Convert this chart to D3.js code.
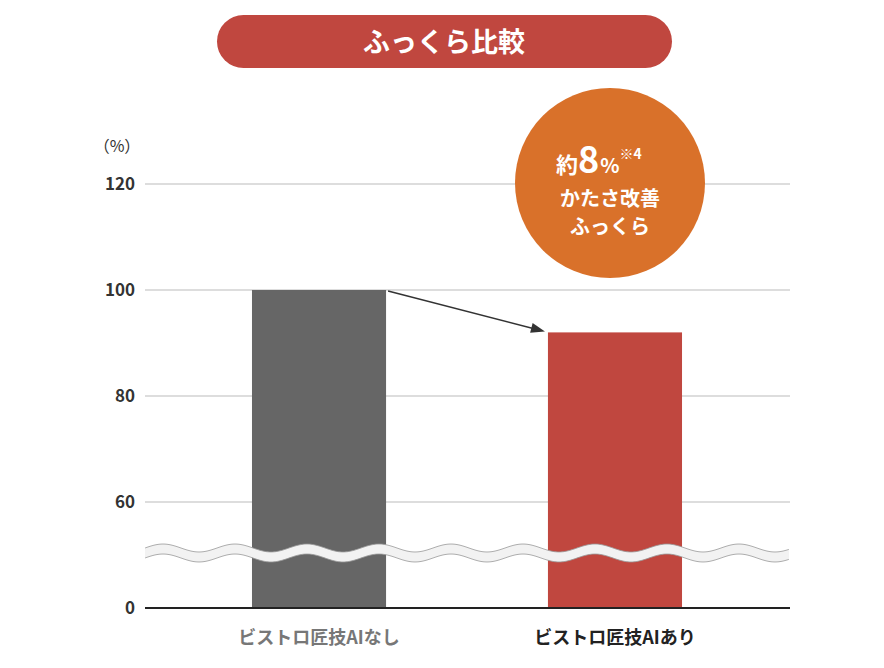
<!DOCTYPE html><html><head><meta charset="utf-8"><script src="https://cdn.jsdelivr.net/npm/d3@7"></script>
<style>body{margin:0;background:#fff}text{font-family:"Noto Sans CJK JP",sans-serif}</style></head><body><svg id="c" width="884" height="668"></svg><script>
const categories=["ビストロ匠技AIなし","ビストロ匠技AIあり"];
const values=[100,92];
const ticks=[0,60,80,100,120];
const colors=["#666666","#c0473f"];
const svg=d3.select("#c");
const x=d3.scaleBand().domain(categories).range([104,830]).paddingInner(0.547).paddingOuter(0.5);
const y=d3.scaleLinear().domain([0,60,120]).range([608,502,184]);
const L=145,R=790;
svg.append("rect").attr("x",217).attr("y",15).attr("width",455).attr("height",53).attr("rx",26.5).attr("fill","#c0473f");
svg.append("text").attr("x",444).attr("y",52).attr("text-anchor","middle").attr("fill","#fff").attr("font-size",27).attr("font-weight",700).text("ふっくら比較");
svg.selectAll(".g").data(ticks.filter(t=>t>0)).join("line").attr("x1",L).attr("x2",R).attr("y1",d=>y(d)).attr("y2",d=>y(d)).attr("stroke","#bbb");
svg.selectAll(".t").data(ticks).join("text").attr("x",135).attr("y",d=>y(d)+6).attr("text-anchor","end").attr("font-size",17).attr("font-weight",700).attr("fill","#333").text(d=>d);
svg.append("text").attr("x",117).attr("y",152).attr("text-anchor","middle").attr("font-size",16).attr("fill","#333").text("（%）");
svg.selectAll(".b").data(values).join("rect").attr("x",(d,i)=>x(categories[i])).attr("width",x.bandwidth()).attr("y",d=>y(d)).attr("height",d=>y(0)-y(d)).attr("fill",(d,i)=>colors[i]);
svg.append("line").attr("x1",L).attr("x2",R).attr("y1",y(0)).attr("y2",y(0)).attr("stroke","#222").attr("stroke-width",2);
const per=72,amp=4,cy=553,th=10;
const pts=d3.range(L,R+1,2);
const f=xx=>cy+amp*Math.sin((xx-L)/per*2*Math.PI+Math.PI);
const area=d3.area().x(d=>d).y0(d=>f(d)-th/2).y1(d=>f(d)+th/2).curve(d3.curveBasis);
svg.append("path").attr("d",area(pts)).attr("fill","#f2f2f2");
const ln=d3.line().curve(d3.curveBasis);
[-th/2,th/2].forEach(o=>svg.append("path").attr("d",ln(pts.map(p=>[p,f(p)+o]))).attr("fill","none").attr("stroke","#999").attr("stroke-width",0.8));
const x1=x(categories[0])+x.bandwidth()+2,y1=y(values[0])+1,x2=x(categories[1])-3,y2=y(values[1])-1;
svg.append("line").attr("x1",x1).attr("y1",y1).attr("x2",x2-6).attr("y2",y2-1.5).attr("stroke","#333").attr("stroke-width",1.5);
const a=Math.atan2(y2-y1,x2-x1)*180/Math.PI;
svg.append("path").attr("d","M0,0L14,5L0,10z").attr("fill","#333").attr("transform",`translate(${x2},${y2}) rotate(${a}) translate(-14,-5)`);
svg.selectAll(".c").data(categories).join("text").attr("x",d=>x(d)+x.bandwidth()/2).attr("y",644).attr("text-anchor","middle").attr("font-size",18).attr("font-weight",700).attr("fill",(d,i)=>i?"#222":"#777").text(d=>d);
svg.append("circle").attr("cx",610).attr("cy",183).attr("r",95).attr("fill","#d9712a");
const t1=svg.append("text").attr("x",556).attr("y",173).attr("fill","#fff").attr("font-weight",700);
t1.append("tspan").attr("font-size",22).text("約");
t1.append("tspan").attr("font-size",36).text("8");
t1.append("tspan").attr("font-size",20).attr("dx",1).text("%");
t1.append("tspan").attr("font-size",14).attr("dy",-14).text("※4");
svg.append("text").attr("x",610).attr("y",206).attr("text-anchor","middle").attr("fill","#fff").attr("font-size",20).attr("font-weight",700).text("かたさ改善");
svg.append("text").attr("x",610).attr("y",234).attr("text-anchor","middle").attr("fill","#fff").attr("font-size",20).attr("font-weight",700).text("ふっくら");
</script></body></html>
